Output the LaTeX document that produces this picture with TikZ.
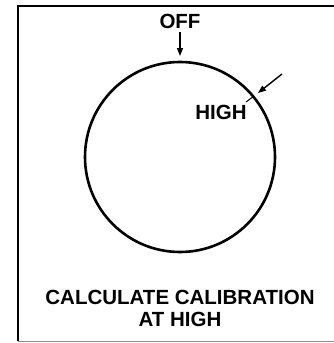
\documentclass[tikz,border=0pt]{standalone}
\usepackage{fontspec}
\setmainfont{Liberation Sans}
\usetikzlibrary{arrows.meta}
\begin{document}
\begin{tikzpicture}[x=1pt,y=-1pt,
  lbl/.style={font=\bfseries\fontsize{20.5}{22}\selectfont, inner sep=0pt, align=center},
  arr/.style={line width=1.4pt,-{Triangle[length=8pt,width=6pt]}}]
\useasboundingbox (0,0) rectangle (334,343);
\draw[line width=2pt] (18,341) -- (18,5.5) -- (334,5.5);
\draw[line width=0.8pt, black!45] (18,341.5) -- (334,341.5);
\node[draw, circle, line width=2.6pt, minimum size=190pt, inner sep=0pt] (dial) at (180,157) {};
\node[lbl] (off) at (180,21.5) {OFF};
\coordinate (offtail) at (180,32);
\coordinate (offtip) at (180,56);
\draw[arr] (offtail) -- (offtip);
\node[lbl] (high) at (221,112) {HIGH};
\coordinate (hightail) at (282,74);
\coordinate (hightip) at (258,93);
\draw[arr] (hightail) -- (hightip);
\coordinate (tickA) at (246,102);
\coordinate (tickB) at (254,96);
\draw[line width=1pt] (tickA) -- (tickB);
\node[lbl] (cal) at (180,308.5) {CALCULATE CALIBRATION\\AT HIGH};
\end{tikzpicture}
\end{document}
